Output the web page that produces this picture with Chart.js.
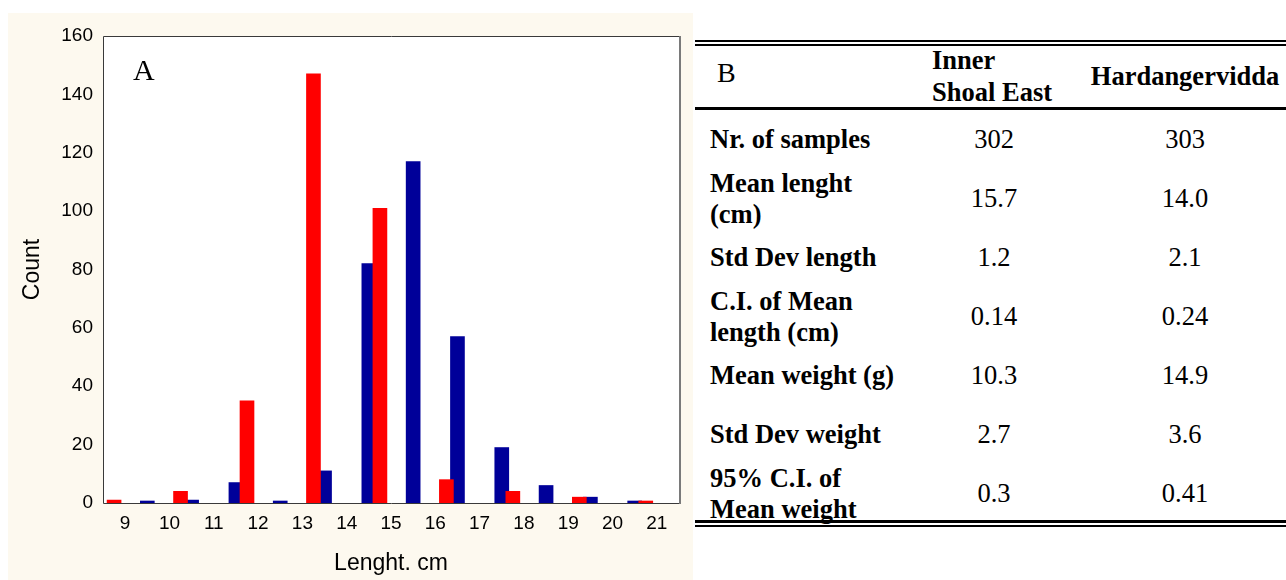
<!DOCTYPE html>
<html>
<head>
<meta charset="utf-8">
<title>Length distribution and sample statistics</title>
<script src="https://cdn.jsdelivr.net/npm/chart.js@4.4.1/dist/chart.umd.min.js"></script>
<style>
  html, body { margin: 0; padding: 0; background: #ffffff; width: 1286px; height: 580px; overflow: hidden; }
  #panel { position: absolute; left: 8px; top: 13px; width: 685px; height: 567px; background: #fdf9ef; }
  #panelLetter { position: absolute; left: 133px; top: 55px; font: 30px/30px "Liberation Serif", "Times New Roman", serif; color: #000; }
  .rule { position: absolute; left: 695px; width: 591px; background: #000; }
  .cell { position: absolute; font-family: "Liberation Serif", "Times New Roman", serif; font-size: 26.5px; line-height: 31px; color: #000; white-space: nowrap; }
  .bold { font-weight: bold; }
  .center { transform: translateX(-50%); text-align: center; }
</style>
</head>
<body>
<div id="panel"><canvas id="lengthChart"></canvas></div>
<div id="panelLetter">A</div>
<div id="table"></div>

<script>
// Length classes (cm) shown on the x axis
const lengthTicks = [9, 10, 11, 12, 13, 14, 15, 16, 17, 18, 19, 20, 21];

// Inner Shoal East: 1 cm classes
const innerShoalEastBins   = [9.5, 10.5, 11.5, 12.5, 13.5, 14.5, 15.5, 16.5, 17.5, 18.5, 19.5, 20.5];
const innerShoalEastCounts = [0, 1, 7, 0, 11, 82, 117, 57, 19, 6, 2, 0];

// Hardangervidda: 1.5 cm classes
const hardangerviddaBins   = [8.75, 10.25, 11.75, 13.25, 14.75, 16.25, 17.75, 19.25, 20.75, 22.25];
const hardangerviddaCounts = [1, 4, 35, 147, 101, 8, 4, 2, 0, 1];

// Summary table
const tableHeaderLetter = "B";
const seriesNames = ["Inner\nShoal East", "Hardangervidda"];
const statLabels = [
  "Nr. of samples",
  "Mean lenght\n(cm)",
  "Std Dev length",
  "C.I. of Mean\nlength (cm)",
  "Mean weight (g)",
  "Std Dev weight",
  "95% C.I. of\nMean weight"
];
const innerShoalEastStats = ["302", "15.7", "1.2", "0.14", "10.3", "2.7", "0.3"];
const hardangerviddaStats = ["303", "14.0", "2.1", "0.24", "14.9", "3.6", "0.41"];

// ---- histogram ----
const toPoints = (xs, ys) => xs.map((x, i) => ({ x: x, y: ys[i] }));

const plotFrame = {
  id: 'plotFrame',
  beforeDraw(chart) {
    const { ctx, chartArea: a } = chart;
    ctx.save();
    ctx.fillStyle = '#ffffff';
    ctx.fillRect(a.left, a.top, a.right - a.left, a.bottom - a.top);
    ctx.restore();
  },
  beforeDatasetsDraw(chart) {
    const { ctx, chartArea: a } = chart;
    ctx.save();
    ctx.lineWidth = 1;
    ctx.strokeStyle = '#3a3a3a';
    ctx.beginPath();
    ctx.moveTo(a.left + 0.5, a.top + 0.5);
    ctx.lineTo(a.right + 0.5, a.top + 0.5);
    ctx.moveTo(a.left + 0.5, a.top + 0.5);
    ctx.lineTo(a.left + 0.5, a.bottom + 0.5);
    ctx.lineTo(a.right + 0.5, a.bottom + 0.5);
    ctx.stroke();
    ctx.strokeStyle = '#7a7a7a';
    ctx.lineWidth = 2;
    ctx.beginPath();
    ctx.moveTo(a.right + 1, a.top);
    ctx.lineTo(a.right + 1, a.bottom + 1);
    ctx.stroke();
    ctx.restore();
  }
};

new Chart(document.getElementById('lengthChart'), {
  type: 'bar',
  data: {
    datasets: [
      {
        label: 'Hardangervidda',
        data: toPoints(hardangerviddaBins, hardangerviddaCounts),
        backgroundColor: '#ff0000',
        order: 0
      },
      {
        label: 'Inner Shoal East',
        data: toPoints(innerShoalEastBins, innerShoalEastCounts),
        backgroundColor: '#000099',
        order: 1
      }
    ]
  },
  options: {
    responsive: true,
    maintainAspectRatio: false,
    animation: false,
    events: [],
    layout: { padding: { top: 23, right: 14, left: 0, bottom: 0 } },
    datasets: { bar: { grouped: false, barThickness: 14, minBarLength: 2, borderWidth: 0 } },
    plugins: { legend: { display: false }, tooltip: { enabled: false } },
    scales: {
      x: {
        type: 'linear',
        min: 8.5,
        max: 21.5,
        offset: false,
        afterBuildTicks: s => { s.ticks = lengthTicks.map(v => ({ value: v })); },
        afterFit: s => { s.height = 77; },
        grid: { display: false, drawTicks: false },
        border: { display: false },
        ticks: {
          padding: 9,
          color: '#000',
          maxRotation: 0,
          autoSkip: false,
          font: { family: 'Liberation Sans', size: 19 }
        },
        title: {
          display: true,
          text: 'Lenght. cm',
          color: '#000',
          font: { family: 'Liberation Sans', size: 23 },
          padding: { top: 0, bottom: 3 }
        }
      },
      y: {
        min: 0,
        max: 160,
        afterFit: s => { s.width = 95; },
        grid: { display: false, drawTicks: false },
        border: { display: false },
        ticks: {
          stepSize: 20,
          padding: 10,
          color: '#000',
          font: { family: 'Liberation Sans', size: 19 }
        },
        title: {
          display: true,
          text: 'Count',
          color: '#000',
          font: { family: 'Liberation Sans', size: 23 },
          padding: { top: 11, bottom: 0 }
        }
      }
    }
  },
  plugins: [plotFrame]
});

// ---- summary table ----
const table = document.getElementById('table');
function addRule(top, height) {
  const r = document.createElement('div');
  r.className = 'rule';
  r.style.top = top + 'px';
  r.style.height = height + 'px';
  table.appendChild(r);
}
function addCell(text, x, centerY, cls, lineHeight) {
  const d = document.createElement('div');
  d.className = 'cell ' + cls;
  const lines = text.split('\n');
  const lh = lineHeight || 31;
  d.style.lineHeight = lh + 'px';
  d.style.left = x + 'px';
  d.style.top = (centerY - lines.length * lh / 2) + 'px';
  lines.forEach((t, i) => {
    if (i) d.appendChild(document.createElement('br'));
    d.appendChild(document.createTextNode(t));
  });
  table.appendChild(d);
  return d;
}

addRule(40, 2);
addRule(44, 2);
addRule(107, 3);
addRule(520, 3);
addRule(525, 2);

const header = addCell(tableHeaderLetter, 717, 72, '', 31);
header.style.fontSize = '28px';
addCell(seriesNames[0], 932, 76, 'bold', 32);
addCell(seriesNames[1], 1185, 76, 'bold center', 31);

const rowTop = 110, rowHeight = 59;
statLabels.forEach((label, i) => {
  const cy = rowTop + rowHeight * i + rowHeight / 2;
  addCell(label, 710, cy, 'bold', 31);
  addCell(innerShoalEastStats[i], 994, cy, 'center', 31);
  addCell(hardangerviddaStats[i], 1185, cy, 'center', 31);
});
</script>
</body>
</html>
